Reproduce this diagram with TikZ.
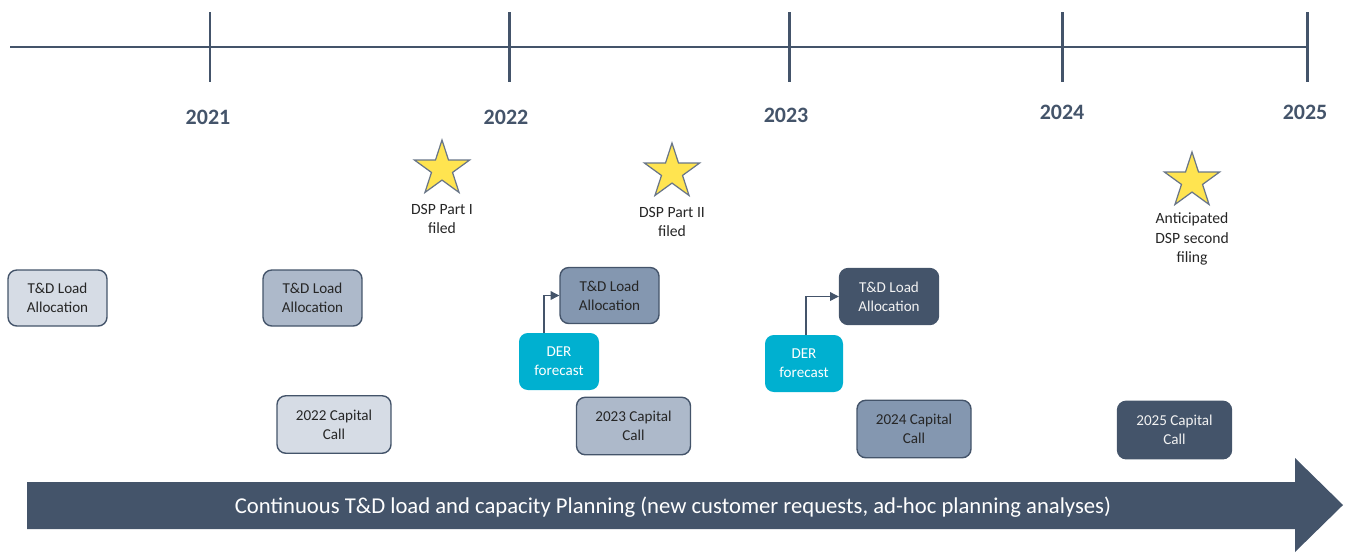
\documentclass[tikz,border=0pt]{standalone}
\usepackage{fontspec}
\setmainfont{Carlito}
\usetikzlibrary{positioning, arrows.meta, shapes.geometric}
\definecolor{slate}{RGB}{68, 84, 106}
\definecolor{slatelight}{RGB}{214, 220, 229}
\definecolor{slatemid}{RGB}{173, 185, 202}
\definecolor{slatedeep}{RGB}{132, 151, 176}
\definecolor{dercyan}{RGB}{0, 176, 208}
\definecolor{staryellow}{RGB}{255, 228, 80}
\definecolor{ink}{RGB}{38, 38, 38}
\tikzset{
    axis line/.style={slate, line width=1.7pt},
    year label/.style={font=\fontsize{12.5}{14}\selectfont\bfseries, text=slate},
    milestone/.style={star, star points=5, star point ratio=2.618, draw=slate!80, line width=0.7pt, fill=staryellow, minimum size=1.16cm, inner sep=0pt},
    milestone text/.style={align=center, font=\fontsize{8.9}{11}\selectfont, text=ink},
    load light/.style={rectangle, rounded corners=5pt, draw=slate, line width=0.8pt, fill=slatelight, minimum width=1.98cm, minimum height=1.12cm, align=center, font=\fontsize{8.6}{10.8}\selectfont, text=ink},
    load mid/.style={load light, fill=slatemid},
    load deep/.style={load light, fill=slatedeep},
    load dark/.style={load light, fill=slate, text=white!95!black},
    capital light/.style={load light, minimum width=2.28cm, minimum height=1.15cm},
    capital mid/.style={capital light, fill=slatemid},
    capital deep/.style={capital light, fill=slatedeep},
    capital dark/.style={capital light, fill=slate, text=white!95!black},
    der box/.style={rectangle, rounded corners=5pt, fill=dercyan, minimum width=1.6cm, minimum height=1.14cm, align=center, font=\fontsize{8.6}{10.8}\selectfont, text=white},
    feed/.style={-{Triangle[length=5pt, width=5pt]}, slate, line width=0.6pt},
    band text/.style={font=\fontsize{12.9}{15}\selectfont, text=white},
}

\begin{document}
\begin{tikzpicture}[x=0.02cm, y=-0.02cm]
\useasboundingbox (0,0) rectangle (1348,552);
% timeline
\draw[axis line] (10,47) -- (1308,47);
\draw[axis line] (210,12) -- (210,82);
\draw[axis line] (509,12) -- (509,82);
\draw[axis line] (789,12) -- (789,82);
\draw[axis line] (1062,12) -- (1062,82);
\draw[axis line] (1307,12) -- (1307,82);
\node[year label] (y21) at (208,117) {2021};
\node[year label] (y22) at (506,117) {2022};
\node[year label] (y23) at (786,115) {2023};
\node[year label] (y24) at (1062,112) {2024};
\node[year label] (y25) at (1305,112) {2025};
% filings
\node[milestone] (s1) at (442,169) {};
\node[milestone] (s2) at (672,172) {};
\node[milestone] (s3) at (1192,181) {};
\node[milestone text] (f1) at (442,219) {DSP Part I\\filed};
\node[milestone text] (f2) at (672,222) {DSP Part II\\filed};
\node[milestone text] (f3) at (1192,239) {Anticipated\\DSP second\\filing};
% load allocations
\node[load light] (tdla1) at (57.5,298) {T\&D Load\\Allocation};
\node[load mid] (tdla2) at (312.5,298) {T\&D Load\\Allocation};
\node[load deep] (tdla3) at (609.5,295.5) {T\&D Load\\Allocation};
\node[load dark] (tdla4) at (889,296.5) {T\&D Load\\Allocation};
\node[der box] (der1) at (559,361.5) {DER\\forecast};
\node[der box, minimum width=1.56cm] (der2) at (804,363.5) {DER\\forecast};
\draw[feed] ([xshift=-0.3cm]der1.north) |- (tdla3.west);
\draw[feed] ([xshift=0.04cm]der2.north) |- (tdla4.west);
% capital calls
\node[capital light] (cap22) at (334,424.5) {2022 Capital\\Call};
\node[capital mid] (cap23) at (633.5,426) {2023 Capital\\Call};
\node[capital deep] (cap24) at (914,429) {2024 Capital\\Call};
\node[capital dark] (cap25) at (1174.5,430) {2025 Capital\\Call};
% continuous planning band
\fill[slate] (27,482) -- (1295,482) -- (1295,458) -- (1343,505) -- (1295,552) -- (1295,529) -- (27,529) -- cycle;
\node[band text] (band) at (673,507) {Continuous T\&D load and capacity Planning (new customer requests, ad-hoc planning analyses)};
\end{tikzpicture}
\end{document}
